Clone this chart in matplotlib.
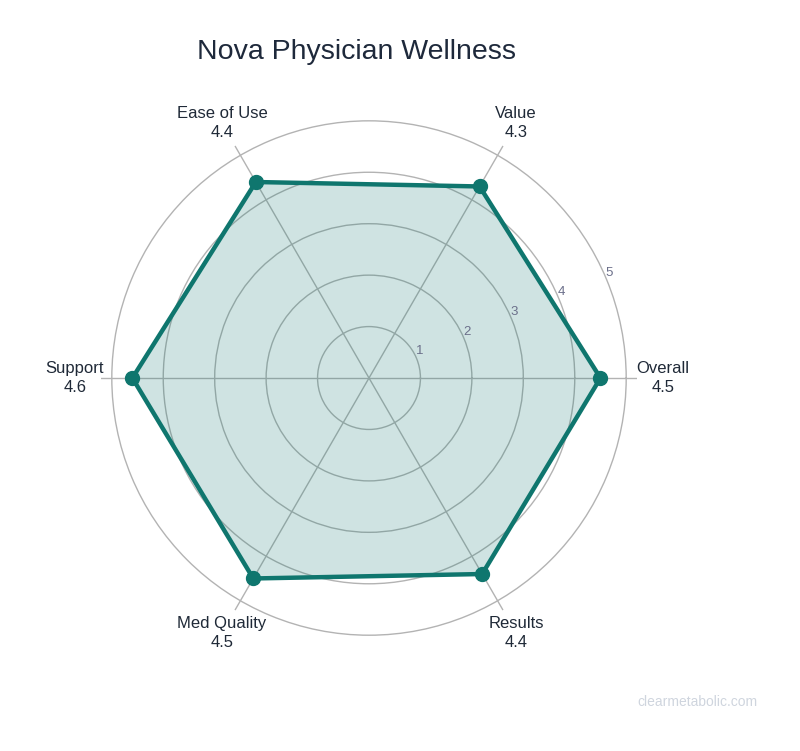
import matplotlib.pyplot as plt
import numpy as np

# Chart data
categories = ['Overall', 'Value', 'Ease of Use', 'Support', 'Med Quality', 'Results']
scores = [4.5, 4.3, 4.4, 4.6, 4.5, 4.4]
radial_ticks = [1, 2, 3, 4, 5]

plt.rcParams['font.family'] = ['Liberation Sans', 'DejaVu Sans']

LINE = '#0f766e'
TEXT = '#1f2937'
GRID = '#b3b3b3'

fig = plt.figure(figsize=(8, 7.51), dpi=100)
ax = fig.add_axes([0.12625, 0.1398, 0.67, 0.7137], projection='polar')

angles = np.deg2rad(np.arange(len(categories)) * 60.0)
closed_a = np.append(angles, angles[0])
closed_v = np.append(scores, scores[0])

ax.fill(closed_a, closed_v, color=LINE, alpha=0.2, linewidth=0, zorder=2)
ax.plot(closed_a, closed_v, color=LINE, linewidth=3.2, zorder=3)
ax.plot(angles, scores, 'o', color=LINE, markersize=10, zorder=4)

rmax = 5.21
ax.set_ylim(0, rmax)
ax.set_yticks(radial_ticks)
ax.set_yticklabels([])
ax.set_xticks(angles)
ax.set_xticklabels([])
ax.grid(True, color=GRID, linewidth=1.0)
ax.spines['polar'].set_visible(False)
ax.set_facecolor('none')

# category labels with value under it
for a, cat, v in zip(angles, categories, scores):
    ax.text(a, 5.72, f'{cat}\n{v}', ha='center', va='center',
            fontsize=12, color=TEXT, linespacing=1.3, clip_on=False)

# radial tick labels
for t in radial_ticks:
    ax.annotate(str(t), xy=(np.deg2rad(22.5), t), xytext=(2, 5),
                textcoords='offset points', ha='center', va='center',
                fontsize=9.5, color='#6b6f8a')

fig.text(0.446, 0.931, 'Nova Physician Wellness', ha='center', va='center',
         fontsize=20.5, color='#1e293b')
fig.text(0.9475, 0.065, 'clearmetabolic.com', ha='right', va='center',
         fontsize=10, color='#cfd5de')

fig.savefig('out.png', dpi=100)
